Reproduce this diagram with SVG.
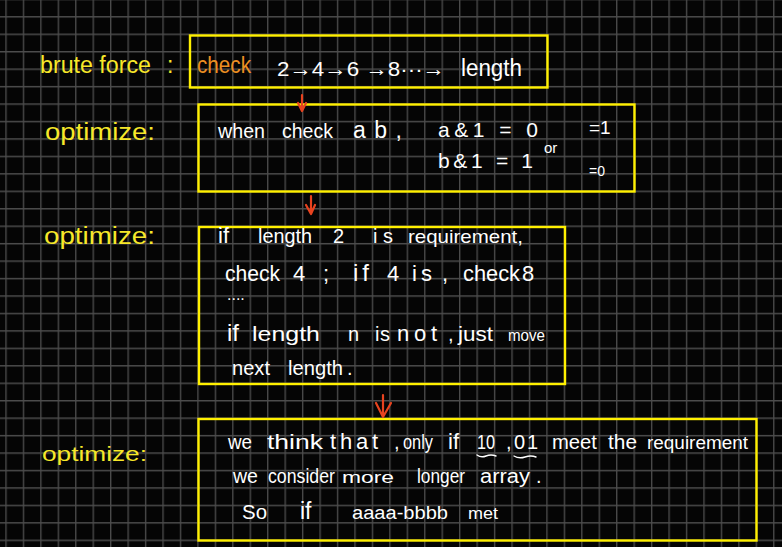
<svg xmlns="http://www.w3.org/2000/svg" width="782" height="547" viewBox="0 0 782 547">
<defs>
<pattern id="grid" patternUnits="userSpaceOnUse" x="5.3" y="16.1" width="17.45" height="17.45">
<path d="M0.7 0V17.45M0 0.7H17.45" stroke="#4d4d4d" stroke-width="1.3" fill="none"/>
</pattern>
<style>
.box{fill:none;stroke:#fff000;stroke-width:2.4}
.y{fill:#f7e82a;font-family:"Liberation Sans",sans-serif}
.w{fill:#ffffff;font-family:"Liberation Sans",sans-serif}
.o{fill:#ec8f22;font-family:"Liberation Sans",sans-serif}
.arrow{fill:none;stroke:#e8431f;stroke-width:2.2;stroke-linecap:round;stroke-linejoin:round}
.tilde{fill:none;stroke:#fff;stroke-width:1.4;stroke-linecap:round}
</style>
</defs>
<rect width="782" height="547" fill="#050505"/>
<rect width="782" height="547" fill="url(#grid)"/>

<g id="label-brute-force">
<text class="y" font-size="23" y="73"><tspan x="40" textLength="111" lengthAdjust="spacingAndGlyphs">brute force</tspan><tspan x="167">:</tspan></text>
</g>

<g id="node-brute-force">
<rect class="box" x="190" y="35.5" width="357.5" height="52"/>
<text class="o" font-size="24" x="197" y="73" textLength="54" lengthAdjust="spacingAndGlyphs">check</text>
<text class="w" font-size="21" y="76"><tspan x="277" textLength="168" lengthAdjust="spacingAndGlyphs">2→4→6 →8···→</tspan><tspan x="461" font-size="23" textLength="61" lengthAdjust="spacingAndGlyphs">length</tspan></text>
</g>

<g id="label-optimize-1">
<text class="y" font-size="23" x="45" y="140" textLength="110" lengthAdjust="spacingAndGlyphs">optimize:</text>
</g>

<g id="node-optimize-1">
<rect class="box" x="198.5" y="104.5" width="436" height="87"/>
<text class="w" font-size="21" y="138"><tspan x="218" textLength="47" lengthAdjust="spacingAndGlyphs">when</tspan><tspan x="282" textLength="51" lengthAdjust="spacingAndGlyphs">check</tspan><tspan x="353" font-size="23" textLength="49">ab,</tspan></text>
<text class="w" font-size="21" x="438" y="137" textLength="100">a&amp;1 = 0</text>
<text class="w" font-size="21" x="438" y="168" textLength="95">b&amp;1 = 1</text>
<text class="w" font-size="15" x="544" y="153">or</text>
<text class="w" font-size="19" x="589" y="134">=1</text>
<text class="w" font-size="14" x="589" y="176">=0</text>
</g>

<g id="label-optimize-2">
<text class="y" font-size="23" x="44" y="244" textLength="111" lengthAdjust="spacingAndGlyphs">optimize:</text>
</g>

<g id="node-optimize-2">
<rect class="box" x="199" y="227" width="366" height="157"/>
<text class="w" font-size="20" y="243"><tspan x="218" font-size="22">if</tspan><tspan x="258" textLength="54" lengthAdjust="spacingAndGlyphs">length</tspan><tspan x="333">2</tspan><tspan x="373" textLength="20">is</tspan><tspan x="408" font-size="19" textLength="115" lengthAdjust="spacingAndGlyphs">requirement,</tspan></text>
<text class="w" font-size="22" y="281"><tspan x="225" textLength="55" lengthAdjust="spacingAndGlyphs">check</tspan><tspan x="293">4</tspan><tspan x="323">;</tspan><tspan x="353" font-size="24" textLength="16">if</tspan><tspan x="387">4</tspan><tspan x="412" textLength="20">is</tspan><tspan x="442">,</tspan><tspan x="463" textLength="57" lengthAdjust="spacingAndGlyphs">check</tspan><tspan x="522">8</tspan></text>
<text class="w" font-size="16" x="227" y="300">....</text>
<text class="w" font-size="20" y="341"><tspan x="227" font-size="24">if</tspan><tspan x="252" font-size="21" textLength="68" lengthAdjust="spacingAndGlyphs">length</tspan><tspan x="348">n</tspan><tspan x="375" textLength="15">is</tspan><tspan x="397" font-size="22" textLength="40">not</tspan><tspan x="448">,</tspan><tspan x="458" textLength="35" lengthAdjust="spacingAndGlyphs">just</tspan><tspan x="508" font-size="16" textLength="37" lengthAdjust="spacingAndGlyphs">move</tspan></text>
<text class="w" font-size="20" y="375"><tspan x="232" textLength="38" lengthAdjust="spacingAndGlyphs">next</tspan><tspan x="288" textLength="55" lengthAdjust="spacingAndGlyphs">length</tspan><tspan x="347">.</tspan></text>
</g>

<g id="label-optimize-3">
<text class="y" font-size="21" x="42" y="461" textLength="105" lengthAdjust="spacingAndGlyphs">optimize:</text>
</g>

<g id="node-optimize-3">
<rect class="box" x="198.5" y="419" width="558" height="121.5"/>
<text class="w" font-size="20" y="449"><tspan x="228" textLength="24" lengthAdjust="spacingAndGlyphs">we</tspan><tspan x="267" font-size="21" textLength="56" lengthAdjust="spacingAndGlyphs">think</tspan><tspan x="330" font-size="22" textLength="48">that</tspan><tspan x="394">,</tspan><tspan x="403" textLength="30" lengthAdjust="spacingAndGlyphs">only</tspan><tspan x="448" font-size="22">if</tspan><tspan x="477" textLength="18" lengthAdjust="spacingAndGlyphs">10</tspan><tspan x="506">,</tspan><tspan x="514" textLength="24">01</tspan><tspan x="552" textLength="45" lengthAdjust="spacingAndGlyphs">meet</tspan><tspan x="608" textLength="29" lengthAdjust="spacingAndGlyphs">the</tspan><tspan x="647" font-size="18" textLength="101" lengthAdjust="spacingAndGlyphs">requirement</tspan></text>
<path class="tilde" d="M477 455q4 3 9 1t10 0M514 456q5 3 11 1t11 0"/>
<text class="w" font-size="20" y="483"><tspan x="233" textLength="25" lengthAdjust="spacingAndGlyphs">we</tspan><tspan x="268" textLength="67" lengthAdjust="spacingAndGlyphs">consider</tspan><tspan x="342" font-size="17" textLength="52" lengthAdjust="spacingAndGlyphs">more</tspan><tspan x="417" textLength="48" lengthAdjust="spacingAndGlyphs">longer</tspan><tspan x="480" textLength="50" lengthAdjust="spacingAndGlyphs">array</tspan><tspan x="536">.</tspan></text>
<text class="w" font-size="20" y="519"><tspan x="242" textLength="25" lengthAdjust="spacingAndGlyphs">So</tspan><tspan x="300" font-size="23">if</tspan><tspan x="352" font-size="18" textLength="96" lengthAdjust="spacingAndGlyphs">aaaa-bbbb</tspan><tspan x="468" font-size="16" textLength="30" lengthAdjust="spacingAndGlyphs">met</tspan></text>
</g>

<g id="connectors">
<path class="arrow" d="M302 95V110M298 103L302 111L306 103"/>
<path class="arrow" d="M311 196V213M306 205L311 214L315 205"/>
<path class="arrow" d="M383 395V417M376 403L383 417L391 403"/>
</g>
</svg>
